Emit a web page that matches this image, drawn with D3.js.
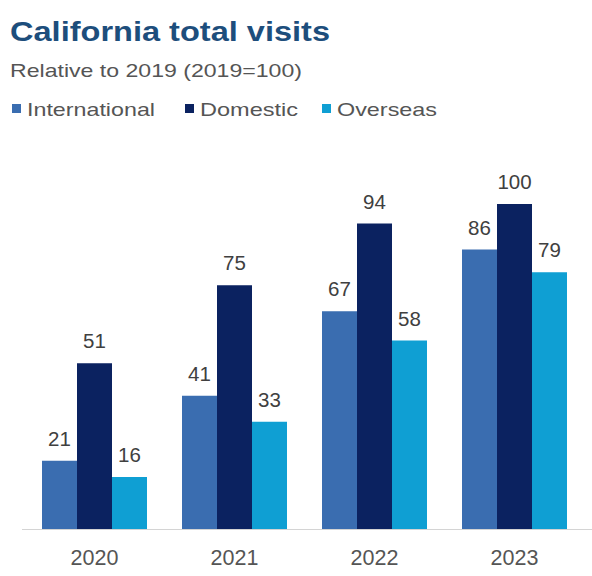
<!DOCTYPE html>
<html><head><meta charset="utf-8">
<script src="https://cdn.jsdelivr.net/npm/d3@7"></script>
<style>body{margin:0;background:#fff}svg{display:block;font-family:"Liberation Sans",Arial,sans-serif}</style>
</head><body><svg id="c" width="592" height="576"></svg>
<script>
const years = ["2020","2021","2022","2023"];
const seriesNames = ["International","Domestic","Overseas"];
const international = [21,41,67,86];
const domestic = [51,75,94,100];
const overseas = [16,33,58,79];
const colors = ["#3a6db0","#0b2260","#0f9fd3"];

const svg = d3.select("#c");
const valuesBySeries = [international, domestic, overseas];

const x = d3.scaleBand().domain(years).range([24.5,584.5]).paddingInner(0.25).paddingOuter(0.125);
const xs = d3.scaleBand().domain(seriesNames).range([0, x.bandwidth()]);
const y = d3.scaleLinear().domain([0,100]).range([529,204]);

// title
svg.append("text").attr("x",10).attr("y",41).attr("font-size",27).attr("font-weight","bold")
  .attr("fill","#1d4e7c").attr("textLength",320).attr("lengthAdjust","spacingAndGlyphs").text("California total visits");
svg.append("text").attr("x",10).attr("y",77).attr("font-size",18.5).attr("fill","#555")
  .attr("textLength",292).attr("lengthAdjust","spacingAndGlyphs").text("Relative to 2019 (2019=100)");

// legend
const legX = [12,185,322];
const legW = [128,98,100];
seriesNames.forEach((s,i)=>{
  svg.append("rect").attr("x",legX[i]).attr("y",104).attr("width",9).attr("height",9).attr("fill",colors[i]);
  svg.append("text").attr("x",legX[i]+15).attr("y",116).attr("font-size",19).attr("fill","#555")
    .attr("textLength",legW[i]).attr("lengthAdjust","spacingAndGlyphs").text(s);
});

// bars
const g = svg.append("g");
years.forEach((yr,j)=>{
  seriesNames.forEach((s,i)=>{
    const v = valuesBySeries[i][j];
    const bx = x(yr)+xs(s);
    g.append("rect").attr("x",bx).attr("y",y(v)).attr("width",xs.bandwidth()).attr("height",y(0)-y(v)).attr("fill",colors[i]);
    g.append("text").attr("x",bx+xs.bandwidth()/2).attr("y",y(v)-15).attr("text-anchor","middle")
      .attr("font-size",20.5).attr("fill","#404040").text(v);
  });
});

// axis
const axis = svg.append("g").attr("transform",`translate(0,${y(0)})`)
  .call(d3.axisBottom(x).tickSize(0).tickPadding(0));
axis.select(".domain").remove();
axis.append("line").attr("x1",22).attr("x2",592).attr("y1",0.5).attr("y2",0.5).attr("stroke","#d4d4d4");
axis.selectAll(".tick text").attr("dy",0).attr("y",36).attr("font-size",21.5).attr("fill","#555")
  .attr("font-family","Liberation Sans, Arial, sans-serif");
</script></body></html>
